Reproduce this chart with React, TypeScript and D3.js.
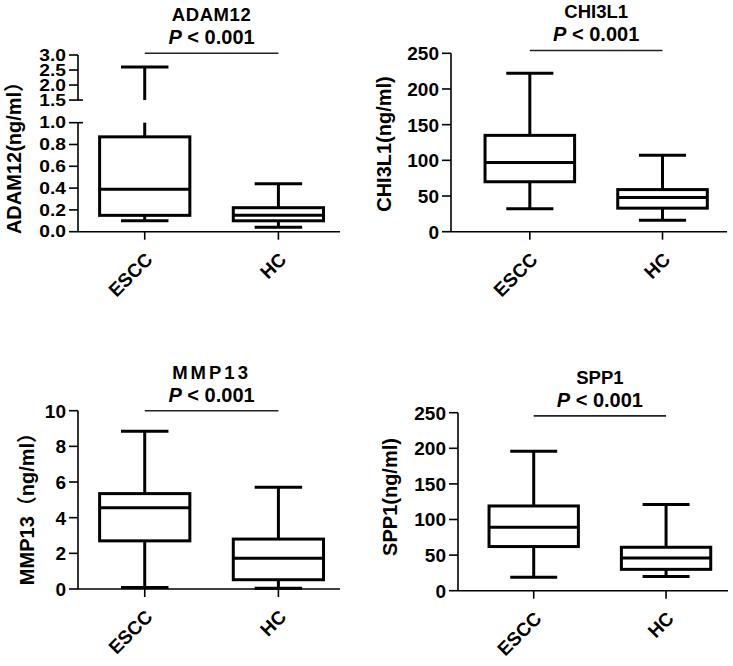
import { useEffect, useRef } from "react";
import * as d3 from "d3";

const groups = ["ESCC", "HC"];

// five-number summaries: [min, q1, median, q3, max] for ESCC, HC
const adam12Stats = [
  [0.1, 0.15, 0.39, 0.87, 2.6],
  [0.04, 0.1, 0.15, 0.22, 0.44],
];
const chi3l1Stats = [
  [32, 70, 97, 135, 222],
  [16, 33, 48, 59, 107],
];
const mmp13Stats = [
  [0.08, 2.7, 4.55, 5.35, 8.85],
  [0.04, 0.52, 1.73, 2.8, 5.7],
];
const spp1Stats = [
  [19, 62, 89, 119, 196],
  [20, 30, 46, 61, 121],
];

const adam12Ticks = [0, 0.2, 0.4, 0.6, 0.8, 1.0, 1.5, 2.0, 2.5, 3.0];
const chi3l1Ticks = [0, 50, 100, 150, 200, 250];
const mmp13Ticks = [0, 2, 4, 6, 8, 10];
const spp1Ticks = [0, 50, 100, 150, 200, 250];

// axis pieces (ADAM12 has a broken axis 1.0 -> 1.5)
const adam12Segments = [[0, 1], [1.5, 3]];
const titles = ["ADAM12", "CHI3L1", "MMP13", "SPP1"];
const yLabels = ["ADAM12(ng/ml）", "CHI3L1(ng/ml)", "MMP13（ng/ml）", "SPP1(ng/ml)"];
const pText = "< 0.001";

const FONT = "'Liberation Sans', Arial, 'Noto Sans CJK SC', sans-serif";

interface Panel {
  title: string;
  yLabel: string;
  stats: number[][];
  ticks: number[];
  segments: number[][];
  sig: number;
  fmt: (v: number) => string;
  tickSize: number;
  tickStretch: number;
  titleSpacing: number;
  // layout
  x0: number;
  x1: number;
  top: number;
  bottom: number;
  pad: number;
  align: number;
  labelX: number;
  labelY: number;
  breaks?: number[]; // fractions of height where the segments sit
}

const panels: Panel[] = [
  {
    title: titles[0], yLabel: yLabels[0], stats: adam12Stats, ticks: adam12Ticks,
    segments: adam12Segments, sig: 3.06, fmt: d3.format(".1f"), tickSize: 16, tickStretch: 1.2, titleSpacing: 0.6,
    x0: 78, x1: 340, top: 55, bottom: 231.7, pad: 0.48, align: 0.52, labelX: 16, labelY: 153,
    breaks: [0.617, 0.745],
  },
  {
    title: titles[1], yLabel: yLabels[1], stats: chi3l1Stats, ticks: chi3l1Ticks,
    segments: [[0, 250]], sig: 254, fmt: d3.format("d"), tickSize: 19, tickStretch: 1, titleSpacing: 0,
    x0: 451, x1: 727, top: 53.3, bottom: 231.7, pad: 0.54, align: 0.55, labelX: 386, labelY: 144,
  },
  {
    title: titles[2], yLabel: yLabels[2], stats: mmp13Stats, ticks: mmp13Ticks,
    segments: [[0, 10]], sig: 10, fmt: d3.format("d"), tickSize: 19, tickStretch: 1, titleSpacing: 3,
    x0: 78, x1: 340, top: 410.7, bottom: 589, pad: 0.48, align: 0.52, labelX: 29, labelY: 504,
  },
  {
    title: titles[3], yLabel: yLabels[3], stats: spp1Stats, ticks: spp1Ticks,
    segments: [[0, 250]], sig: 245.5, fmt: d3.format("d"), tickSize: 19, tickStretch: 1, titleSpacing: 0,
    x0: 458, x1: 728, top: 412.7, bottom: 590.7, pad: 0.52, align: 0.55, labelX: 392, labelY: 497,
  },
];

function drawPanel(g: d3.Selection<SVGGElement, unknown, null, undefined>, p: Panel) {
  const h = p.bottom - p.top;
  const segs = p.segments;
  const lo = segs[0][0];
  const hi = segs[segs.length - 1][1];

  const y = p.breaks
    ? d3
        .scaleLinear()
        .domain([segs[0][0], segs[0][1], segs[1][0], segs[1][1]])
        .range([p.bottom, p.bottom - p.breaks[0] * h, p.bottom - p.breaks[1] * h, p.top])
    : d3.scaleLinear().domain([lo, hi]).range([p.bottom, p.top]);

  const x = d3.scalePoint<string>().domain(groups).range([p.x0, p.x1]).padding(p.pad).align(p.align);
  const step = x.step();
  const boxW = step * 0.675;
  const capW = step * 0.355;

  // y axis, in segments
  for (const [a, b] of segs) {
    g.append("line")
      .attr("x1", p.x0).attr("x2", p.x0)
      .attr("y1", y(a)).attr("y2", y(b))
      .attr("stroke", "#000").attr("stroke-width", 1.6);
  }
  // break marks poke to the right of the axis
  if (segs.length > 1) {
    for (let i = 0; i < segs.length - 1; i++) {
      for (const v of [segs[i][1], segs[i + 1][0]]) {
        g.append("line")
          .attr("x1", p.x0).attr("x2", p.x0 + 5)
          .attr("y1", y(v)).attr("y2", y(v))
          .attr("stroke", "#000").attr("stroke-width", 1.6);
      }
    }
  }

  g.selectAll(null)
    .data(p.ticks)
    .join("line")
    .attr("x1", p.x0 - 9).attr("x2", p.x0)
    .attr("y1", (d) => y(d)).attr("y2", (d) => y(d))
    .attr("stroke", "#000").attr("stroke-width", 1.6);

  g.selectAll(null)
    .data(p.ticks)
    .join("text")
    .attr("transform", (d) => `translate(${p.x0 - 12},${y(d)}) scale(${p.tickStretch},1)`)
    .attr("dy", "0.36em")
    .attr("text-anchor", "end")
    .attr("font-family", FONT)
    .attr("font-weight", "bold")
    .attr("font-size", p.tickSize)
    .text((d) => p.fmt(d));

  // x axis
  g.append("line")
    .attr("x1", p.x0).attr("x2", p.x1)
    .attr("y1", p.bottom).attr("y2", p.bottom)
    .attr("stroke", "#000").attr("stroke-width", 1.6);

  g.selectAll(null)
    .data(groups)
    .join("line")
    .attr("x1", (d) => x(d)!).attr("x2", (d) => x(d)!)
    .attr("y1", p.bottom).attr("y2", p.bottom + 8)
    .attr("stroke", "#000").attr("stroke-width", 1.6);

  g.selectAll(null)
    .data(groups)
    .join("text")
    .attr("transform", (d) => `translate(${x(d)! + 9},${p.bottom + 29}) rotate(-45)`)
    .attr("text-anchor", "end")
    .attr("font-family", FONT)
    .attr("font-weight", "bold")
    .attr("font-size", 19)
    .text((d) => d);

  // y label
  g.append("text")
    .attr("transform", `translate(${p.labelX + 5},${p.labelY}) rotate(-90)`)
    .attr("text-anchor", "middle")
    .attr("font-family", FONT)
    .attr("font-weight", "bold")
    .attr("font-size", 20)
    .text(p.yLabel);

  // boxes
  const lw = 3;
  const vseg = (cx: number, a: number, b: number) => {
    // clip a whisker to the visible axis pieces
    for (const [s0, s1] of segs) {
      const u = Math.max(a, s0);
      const v = Math.min(b, s1);
      if (v <= u) continue;
      g.append("line")
        .attr("x1", cx).attr("x2", cx)
        .attr("y1", y(u)).attr("y2", y(v))
        .attr("stroke", "#000").attr("stroke-width", lw);
    }
  };

  groups.forEach((grp, i) => {
    const [mn, q1, md, q3, mx] = p.stats[i];
    const cx = x(grp)!;
    vseg(cx, mn, q1);
    vseg(cx, q3, mx);
    for (const v of [mn, mx]) {
      g.append("line")
        .attr("x1", cx - capW / 2).attr("x2", cx + capW / 2)
        .attr("y1", y(v)).attr("y2", y(v))
        .attr("stroke", "#000").attr("stroke-width", lw);
    }
    g.append("rect")
      .attr("x", cx - boxW / 2)
      .attr("y", y(q3))
      .attr("width", boxW)
      .attr("height", y(q1) - y(q3))
      .attr("fill", "#fff")
      .attr("stroke", "#000")
      .attr("stroke-width", lw);
    g.append("line")
      .attr("x1", cx - boxW / 2).attr("x2", cx + boxW / 2)
      .attr("y1", y(md)).attr("y2", y(md))
      .attr("stroke", "#000").attr("stroke-width", lw);
  });

  // significance bar and title
  const sy = y(p.sig);
  const xa = x(groups[0])!;
  const xb = x(groups[1])!;
  g.append("line")
    .attr("x1", xa).attr("x2", xb)
    .attr("y1", sy).attr("y2", sy)
    .attr("stroke", "#222").attr("stroke-width", 1.6);

  const cx = (xa + xb) / 2;
  const pt = g.append("text")
    .attr("x", cx)
    .attr("y", sy - 9)
    .attr("text-anchor", "middle")
    .attr("font-family", FONT)
    .attr("font-weight", "bold")
    .attr("font-size", 20);
  pt.append("tspan").attr("font-style", "italic").text("P");
  pt.append("tspan").text(" " + pText);

  g.append("text")
    .attr("x", cx)
    .attr("y", sy - 32)
    .attr("text-anchor", "middle")
    .attr("font-family", FONT)
    .attr("font-weight", "bold")
    .attr("font-size", 18.5)
    .attr("letter-spacing", p.titleSpacing)
    .text(p.title);
}

export default function App() {
  const ref = useRef<SVGSVGElement>(null);

  useEffect(() => {
    const svg = d3.select(ref.current);
    svg.selectAll("*").remove();
    for (const p of panels) {
      drawPanel(svg.append("g") as any, p);
    }
  }, []);

  return (
    <div style={{ position: "absolute", left: 0, top: 0, background: "#fff" }}>
      <svg ref={ref} width={733} height={666} style={{ display: "block" }} />
    </div>
  );
}
